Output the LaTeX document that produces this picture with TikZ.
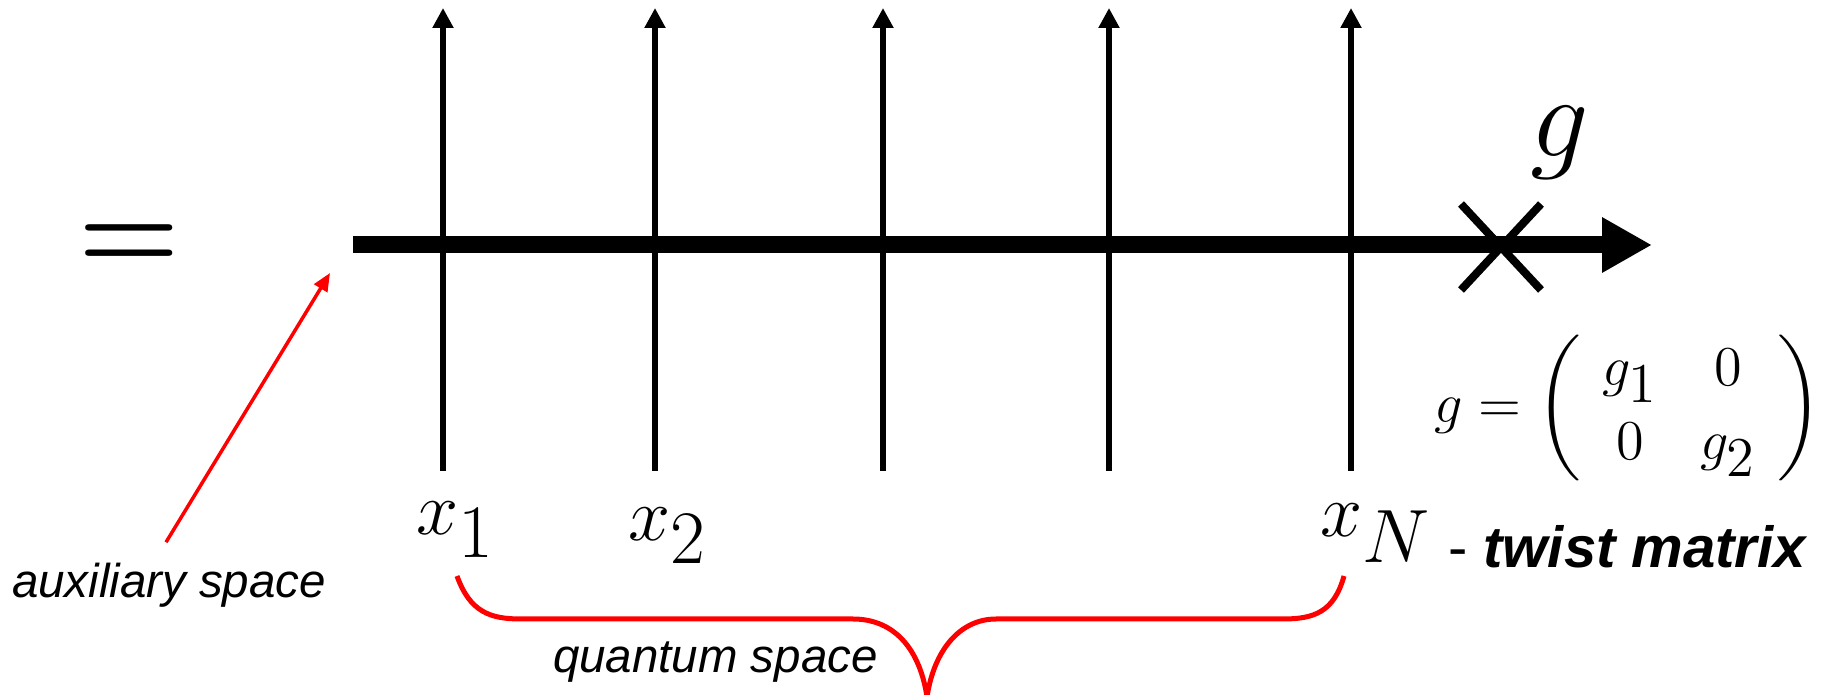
\RequirePackage{fix-cm}
\documentclass[tikz,border=0pt]{standalone}
\usepackage{amsmath}
\usepackage{fontspec}
\newfontfamily\arialfont{Liberation Sans}
\usetikzlibrary{arrows.meta}

\begin{document}
\begin{tikzpicture}[
    x=0.01cm, y=-0.01cm,
    every node/.style={inner sep=0pt, outer sep=0pt},
    wire/.style={line width=0.06cm, -{Triangle[length=0.2cm, width=0.2cm]}},
    auxline/.style={line width=0.17cm, -{Triangle[length=0.5cm, width=0.52cm]}},
    pointer/.style={red, line width=0.035cm, -{Triangle[length=0.18cm, width=0.15cm]}},
    brace/.style={red, line width=0.05cm},
    site/.style={font=\fontsize{21.5}{26}\selectfont, anchor=base west},
    note/.style={font=\arialfont\itshape\fontsize{13.5}{16}\selectfont, anchor=base west}
]
\useasboundingbox (0,0) rectangle (1831,695);

\node[font=\fontsize{33}{36}\selectfont\boldmath, anchor=base] (equals) at (129,270) {$=$};

% auxiliary line with the twist
\coordinate (auxstart) at (353,245);
\coordinate (auxend) at (1652,245);
\coordinate (twist) at (1501,247);

% quantum sites
\coordinate (s1) at (443,471);
\coordinate (s2) at (655,471);
\coordinate (s3) at (883,471);
\coordinate (s4) at (1109,471);
\coordinate (sN) at (1351,471);
\coordinate (t1) at (443,8);
\coordinate (t2) at (655,8);
\coordinate (t3) at (883,8);
\coordinate (t4) at (1109,8);
\coordinate (tN) at (1351,8);

\draw[wire] (s1) -- (t1);
\draw[wire] (s2) -- (t2);
\draw[wire] (s3) -- (t3);
\draw[wire] (s4) -- (t4);
\draw[wire] (sN) -- (tN);

\draw[auxline] (auxstart) -- (auxend);
\draw[line width=0.08cm] ([shift={(-40,-43)}]twist) -- ([shift={(40,43)}]twist);
\draw[line width=0.08cm] ([shift={(40,-43)}]twist) -- ([shift={(-40,43)}]twist);
\node[font=\fontsize{33}{36}\selectfont, anchor=base] (glabel) at (1560,157) {$g$};

\node[site] (x1) at (416,535) {$x_{\textstyle 1}$};
\node[site] (x2) at (628,541) {$x_{\textstyle 2}$};
\node[site] (xN) at (1320,537) {$x_{\textstyle N}$};

\node[font=\fontsize{16}{19}\selectfont, anchor=west] (twistdef) at (1434,408) {
    \arraycolsep=6pt\renewcommand{\arraystretch}{1.1}%
    $g=\left(\begin{array}{cc} g_{\textstyle 1} & 0\\ 0 & g_{\textstyle 2}\end{array}\right)$
};
\node[font=\arialfont\fontsize{16.5}{20}\selectfont, anchor=base west] (twistname) at (1448,568) {- \textbf{\textit{twist matrix}}};

\node[note] (auxname) at (12,598) {auxiliary space};
\coordinate (auxtip) at (330,273);
\draw[pointer, shorten <=0.25cm] ([xshift=-0.16cm]auxname.north) -- (auxtip);

\node[note] (qname) at (553,673) {quantum space};
\coordinate (braceL) at (457,576);
\coordinate (braceR) at (1344,576);
\coordinate (braceTip) at (927,697);
\draw[brace] (braceL) .. controls (470,612) and (490,619) .. (521,619) -- (853,619)
    .. controls (895,619) and (920,650) .. (braceTip)
    .. controls (934,650) and (960,619) .. (996,619) -- (1283,619)
    .. controls (1314,619) and (1334,612) .. (braceR);

\end{tikzpicture}
\end{document}
